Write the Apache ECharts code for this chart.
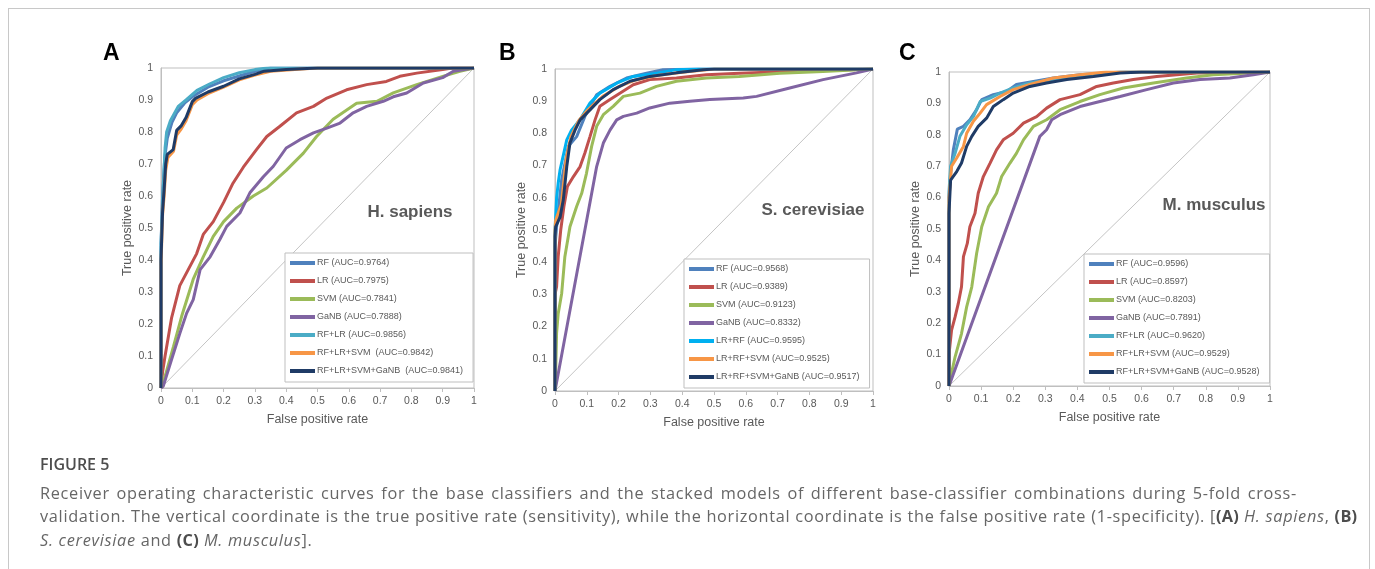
<!DOCTYPE html>
<html>
<head>
<meta charset="utf-8">
<script src="https://cdn.jsdelivr.net/npm/echarts@6/dist/echarts.min.js"></script>
<style>
  html, body { margin: 0; padding: 0; background: #fff; }
  #frame { position: absolute; left: 8px; top: 8px; width: 1360px; height: 600px; border: 1px solid #c8c8c8; }
  #chart { position: absolute; left: 0; top: 0; width: 1375px; height: 569px; }
  #caption { position: absolute; left: 40px; top: 453px; width: 1330px; color: #666; font-family: "Open Sans", sans-serif; font-size: 16.3px; letter-spacing: 0.7px; line-height: 23.6px; white-space: nowrap; }
  #caption .head { color: #4d4d4d; font-weight: 600; font-size: 16px; letter-spacing: 0; margin-bottom: 5px; }
  #caption .l1 { word-spacing: 1.8px; }
  #caption b { color: #4d4d4d; font-weight: 700; letter-spacing: 0.3px; }
</style>
</head>
<body>
<div id="frame"></div>
<div id="chart"></div>
<div id="caption">
  <div class="head">FIGURE 5</div>
  <span class="l1">Receiver operating characteristic curves for the base classifiers and the stacked models of different base-classifier combinations during 5-fold cross-</span><br>
  validation. The vertical coordinate is the true positive rate (sensitivity), while the horizontal coordinate is the false positive rate (1-specificity). [<b>(A)</b> <i>H. sapiens</i>, <b>(B)</b><br>
  <i>S. cerevisiae</i> and <b>(C)</b> <i>M. musculus</i>].
</div>
<script>
// axis ticks 0..1 step 0.1
var ticks = [0, 0.1, 0.2, 0.3, 0.4, 0.5, 0.6, 0.7, 0.8, 0.9, 1];

// ---- A: H. sapiens ----
var namesA = ['RF (AUC=0.9764)', 'LR (AUC=0.7975)', 'SVM (AUC=0.7841)', 'GaNB (AUC=0.7888)',
  'RF+LR (AUC=0.9856)', 'RF+LR+SVM  (AUC=0.9842)', 'RF+LR+SVM+GaNB  (AUC=0.9841)'];
var hsRF = [[0,0],[0,0.45],[0.005,0.6],[0.012,0.72],[0.02,0.78],[0.035,0.83],[0.05,0.86],[0.075,0.89],[0.1,0.91],[0.15,0.94],[0.2,0.96],[0.25,0.975],[0.3,0.99],[0.35,1],[1,1]];
var hsLR = [[0,0],[0.005,0.05],[0.013,0.1],[0.034,0.22],[0.06,0.32],[0.087,0.37],[0.114,0.42],[0.135,0.48],[0.167,0.52],[0.2,0.58],[0.23,0.64],[0.263,0.69],[0.305,0.745],[0.338,0.786],[0.38,0.818],[0.433,0.86],[0.487,0.88],[0.53,0.906],[0.593,0.932],[0.657,0.948],[0.72,0.958],[0.763,0.974],[0.817,0.984],[0.9,0.995],[0.93,1],[1,1]];
var hsSVM = [[0,0],[0.013,0.036],[0.04,0.13],[0.066,0.224],[0.103,0.34],[0.135,0.41],[0.167,0.474],[0.2,0.52],[0.242,0.562],[0.295,0.6],[0.338,0.625],[0.4,0.68],[0.455,0.734],[0.497,0.786],[0.55,0.84],[0.625,0.89],[0.69,0.896],[0.742,0.922],[0.817,0.948],[0.9,0.974],[0.955,0.99],[1,1]];
var hsGaNB = [[0,0],[0.007,0.005],[0.034,0.09],[0.06,0.17],[0.082,0.234],[0.103,0.276],[0.125,0.37],[0.157,0.41],[0.188,0.464],[0.21,0.505],[0.252,0.547],[0.284,0.61],[0.327,0.66],[0.359,0.693],[0.4,0.75],[0.444,0.776],[0.487,0.797],[0.53,0.812],[0.572,0.828],[0.614,0.86],[0.657,0.88],[0.71,0.896],[0.742,0.91],[0.785,0.922],[0.838,0.953],[0.9,0.97],[0.934,0.99],[1,1]];
var hsRFLR = [[0,0],[0,0.45],[0.007,0.62],[0.013,0.75],[0.018,0.8],[0.03,0.835],[0.055,0.88],[0.08,0.9],[0.115,0.93],[0.155,0.95],[0.2,0.97],[0.25,0.985],[0.3,0.995],[0.34,1],[1,1]];
var hsRFLRSVM = [[0,0],[0,0.38],[0.005,0.54],[0.01,0.6],[0.015,0.68],[0.022,0.72],[0.04,0.74],[0.05,0.79],[0.065,0.81],[0.08,0.835],[0.1,0.885],[0.115,0.9],[0.15,0.92],[0.2,0.94],[0.25,0.963],[0.3,0.978],[0.35,0.99],[0.45,0.997],[0.5,1],[1,1]];
var hsAll = [[0,0],[0,0.4],[0.005,0.55],[0.01,0.62],[0.015,0.7],[0.02,0.73],[0.039,0.745],[0.05,0.805],[0.065,0.82],[0.08,0.845],[0.1,0.895],[0.11,0.905],[0.15,0.925],[0.2,0.943],[0.25,0.966],[0.3,0.98],[0.33,0.99],[0.4,0.995],[0.5,1],[1,1]];

// ---- B: S. cerevisiae ----
var namesB = ['RF (AUC=0.9568)', 'LR (AUC=0.9389)', 'SVM (AUC=0.9123)', 'GaNB (AUC=0.8332)',
  'LR+RF (AUC=0.9595)', 'LR+RF+SVM (AUC=0.9525)', 'LR+RF+SVM+GaNB (AUC=0.9517)'];
var scRF = [[0,0],[0,0.45],[0.005,0.51],[0.021,0.656],[0.042,0.76],[0.068,0.79],[0.094,0.853],[0.131,0.92],[0.173,0.946],[0.225,0.972],[0.288,0.987],[0.34,0.998],[0.45,1],[1,1]];
var scLR = [[0,0],[0,0.3],[0.005,0.324],[0.01,0.417],[0.018,0.5],[0.028,0.573],[0.039,0.635],[0.058,0.666],[0.079,0.697],[0.094,0.739],[0.11,0.79],[0.126,0.842],[0.141,0.884],[0.173,0.905],[0.204,0.925],[0.246,0.951],[0.298,0.967],[0.382,0.972],[0.476,0.982],[0.58,0.987],[0.738,0.992],[1,1]];
var scSVM = [[0,0],[0.002,0.054],[0.005,0.18],[0.01,0.24],[0.021,0.303],[0.031,0.417],[0.047,0.51],[0.068,0.573],[0.084,0.614],[0.099,0.676],[0.115,0.759],[0.131,0.822],[0.152,0.858],[0.183,0.884],[0.215,0.915],[0.267,0.925],[0.319,0.946],[0.382,0.962],[0.476,0.972],[0.58,0.977],[0.707,0.987],[0.843,0.992],[1,1]];
var scGaNB = [[0,0],[0.131,0.697],[0.152,0.77],[0.173,0.81],[0.194,0.842],[0.215,0.853],[0.257,0.863],[0.298,0.879],[0.361,0.894],[0.424,0.9],[0.487,0.905],[0.592,0.91],[0.634,0.915],[0.738,0.941],[0.843,0.967],[0.948,0.988],[1,1]];
var scLRRF = [[0,0],[0,0.5],[0.005,0.6],[0.01,0.645],[0.016,0.687],[0.037,0.78],[0.052,0.81],[0.079,0.843],[0.11,0.894],[0.141,0.925],[0.194,0.956],[0.246,0.977],[0.32,0.987],[0.382,0.998],[0.45,1],[1,1]];
var scLRRFSVM = [[0,0],[0,0.5],[0.002,0.53],[0.02,0.58],[0.035,0.72],[0.05,0.79],[0.075,0.84],[0.1,0.87],[0.15,0.915],[0.2,0.945],[0.25,0.965],[0.32,0.98],[0.4,0.99],[0.5,1],[1,1]];
var scAll = [[0,0],[0,0.48],[0.002,0.51],[0.016,0.54],[0.026,0.593],[0.037,0.697],[0.047,0.77],[0.063,0.81],[0.079,0.842],[0.11,0.873],[0.141,0.905],[0.183,0.936],[0.236,0.962],[0.298,0.977],[0.382,0.988],[0.466,0.998],[0.5,1],[1,1]];

// ---- C: M. musculus ----
var namesC = ['RF (AUC=0.9596)', 'LR (AUC=0.8597)', 'SVM (AUC=0.8203)', 'GaNB (AUC=0.7891)',
  'RF+LR (AUC=0.9620)', 'RF+LR+SVM (AUC=0.9529)', 'RF+LR+SVM+GaNB (AUC=0.9528)'];
var mmRF = [[0,0],[0,0.6],[0.005,0.678],[0.0135,0.752],[0.026,0.818],[0.045,0.827],[0.065,0.848],[0.086,0.88],[0.102,0.912],[0.138,0.928],[0.18,0.938],[0.21,0.96],[0.263,0.97],[0.325,0.981],[0.408,0.991],[0.49,0.997],[0.533,1],[1,1]];
var mmLR = [[0,0],[0,0.1],[0.003,0.13],[0.008,0.178],[0.019,0.22],[0.029,0.263],[0.039,0.316],[0.045,0.412],[0.057,0.454],[0.065,0.507],[0.081,0.55],[0.091,0.614],[0.107,0.667],[0.128,0.71],[0.148,0.752],[0.169,0.784],[0.2,0.805],[0.232,0.837],[0.273,0.858],[0.304,0.885],[0.346,0.912],[0.408,0.928],[0.46,0.954],[0.512,0.965],[0.574,0.976],[0.647,0.986],[0.772,0.997],[1,1]];
var mmSVM = [[0,0],[0.003,0.018],[0.019,0.093],[0.039,0.167],[0.055,0.252],[0.071,0.316],[0.086,0.422],[0.102,0.507],[0.123,0.571],[0.148,0.614],[0.164,0.667],[0.19,0.71],[0.21,0.741],[0.232,0.784],[0.263,0.827],[0.304,0.848],[0.346,0.88],[0.408,0.906],[0.47,0.928],[0.543,0.949],[0.637,0.965],[0.74,0.981],[0.823,0.991],[1,1]];
var mmGaNB = [[0,0],[0.283,0.795],[0.304,0.816],[0.32,0.848],[0.346,0.864],[0.408,0.89],[0.47,0.906],[0.533,0.922],[0.616,0.944],[0.699,0.965],[0.782,0.976],[0.875,0.981],[0.948,0.991],[1,1]];
var mmRFLR = [[0,0],[0,0.62],[0.005,0.7],[0.019,0.741],[0.034,0.795],[0.055,0.832],[0.076,0.858],[0.097,0.906],[0.128,0.917],[0.159,0.933],[0.2,0.949],[0.252,0.965],[0.325,0.976],[0.408,0.986],[0.49,0.997],[0.55,1],[1,1]];
var mmRFLRSVM = [[0,0],[0,0.6],[0.003,0.635],[0.008,0.7],[0.024,0.726],[0.045,0.763],[0.055,0.805],[0.076,0.843],[0.097,0.869],[0.117,0.896],[0.159,0.922],[0.2,0.944],[0.252,0.96],[0.325,0.981],[0.408,0.991],[0.49,1],[1,1]];
var mmAll = [[0,0],[0,0.55],[0.005,0.656],[0.024,0.683],[0.039,0.71],[0.055,0.763],[0.071,0.795],[0.091,0.827],[0.117,0.853],[0.138,0.89],[0.169,0.912],[0.2,0.933],[0.252,0.954],[0.304,0.965],[0.367,0.976],[0.45,0.986],[0.533,0.997],[0.6,1],[1,1]];

var diagonal = [[0,0],[1,1]];

var colors = ['#4F81BD', '#C0504D', '#9BBB59', '#8064A2', '#4BACC6', '#F79646', '#1F3B66'];
var colorsB = ['#4F81BD', '#C0504D', '#9BBB59', '#8064A2', '#00B0F0', '#F79646', '#1F3B66'];

var axisGrey = '#bfbfbf';
var labelGrey = '#595959';

function mkX(i) {
  return {
    type: 'value', gridIndex: i, min: 0, max: 1, interval: 0.1,
    name: 'False positive rate', nameLocation: 'middle', nameGap: 25,
    nameTextStyle: { color: labelGrey, fontSize: 12.5, fontFamily: 'Liberation Sans' },
    axisLine: { show: true, lineStyle: { color: axisGrey } },
    axisTick: { show: true, length: 4, lineStyle: { color: axisGrey } },
    axisLabel: { color: labelGrey, fontSize: 10.5, margin: 8, fontFamily: 'Liberation Sans' },
    splitLine: { show: false }
  };
}
function mkY(i) {
  return {
    type: 'value', gridIndex: i, min: 0, max: 1, interval: 0.1,
    name: 'True positive rate', nameLocation: 'middle', nameGap: 27,
    nameTextStyle: { color: labelGrey, fontSize: 12.5, fontFamily: 'Liberation Sans' },
    axisLine: { show: true, lineStyle: { color: axisGrey } },
    axisTick: { show: false },
    axisLabel: { color: labelGrey, fontSize: 10.5, margin: 8, fontFamily: 'Liberation Sans' },
    splitLine: { show: false }
  };
}

var panels = [
  { names: namesA, data: [hsRF, hsLR, hsSVM, hsGaNB, hsRFLR, hsRFLRSVM, hsAll], colors: colors },
  { names: namesB, data: [scRF, scLR, scSVM, scGaNB, scLRRF, scLRRFSVM, scAll], colors: colorsB },
  { names: namesC, data: [mmRF, mmLR, mmSVM, mmGaNB, mmRFLR, mmRFLRSVM, mmAll], colors: colors }
];

var series = [];
panels.forEach(function (p, i) {
  series.push({
    type: 'line', xAxisIndex: i, yAxisIndex: i, data: diagonal, symbol: 'none',
    lineStyle: { color: '#c4c4c4', width: 1 }, silent: true, z: 1
  });
  p.data.forEach(function (d, k) {
    series.push({
      name: p.names[k], type: 'line', xAxisIndex: i, yAxisIndex: i, data: d,
      symbol: 'none', color: p.colors[k],
      lineStyle: { width: 3, color: p.colors[k] }, z: 2 + k
    });
  });
});

function mkLegend(i, left, top) {
  return {
    data: panels[i].names, orient: 'vertical', left: left, top: top,
    icon: 'rect', itemWidth: 25, itemHeight: 4, itemGap: 6,
    backgroundColor: '#fff', borderColor: axisGrey, borderWidth: 1,
    padding: [4, 10, 5, 5], selectedMode: false,
    textStyle: { color: labelGrey, fontSize: 9, lineHeight: 12, fontFamily: 'Liberation Sans', padding: [0, 0, 0, -3] }
  };
}

var chart = echarts.init(document.getElementById('chart'));
chart.setOption({
  animation: false,
  backgroundColor: 'transparent',
  grid: [
    { left: 161, top: 68, width: 313, height: 320, show: true, borderColor: axisGrey, borderWidth: 1, backgroundColor: '#fff' },
    { left: 555, top: 69, width: 318, height: 322, show: true, borderColor: axisGrey, borderWidth: 1, backgroundColor: '#fff' },
    { left: 949, top: 72, width: 321, height: 314, show: true, borderColor: axisGrey, borderWidth: 1, backgroundColor: '#fff' }
  ],
  xAxis: [mkX(0), mkX(1), mkX(2)],
  yAxis: [mkY(0), mkY(1), mkY(2)],
  legend: [mkLegend(0, 285, 253), mkLegend(1, 684, 259), mkLegend(2, 1084, 254)],
  graphic: [
    { type: 'text', left: 103, top: 42, style: { text: 'A', font: 'bold 23px "Liberation Sans"', fill: '#000' } },
    { type: 'text', left: 499, top: 42, style: { text: 'B', font: 'bold 23px "Liberation Sans"', fill: '#000' } },
    { type: 'text', left: 899, top: 42, style: { text: 'C', font: 'bold 23px "Liberation Sans"', fill: '#000' } },
    { type: 'text', x: 410, y: 212, style: { text: 'H. sapiens', font: 'bold 17px "Liberation Sans"', fill: '#595959', align: 'center', verticalAlign: 'middle' } },
    { type: 'text', x: 813, y: 210, style: { text: 'S. cerevisiae', font: 'bold 17px "Liberation Sans"', fill: '#595959', align: 'center', verticalAlign: 'middle' } },
    { type: 'text', x: 1214, y: 205, style: { text: 'M. musculus', font: 'bold 17px "Liberation Sans"', fill: '#595959', align: 'center', verticalAlign: 'middle' } }
  ],
  series: series
});
</script>
</body>
</html>
